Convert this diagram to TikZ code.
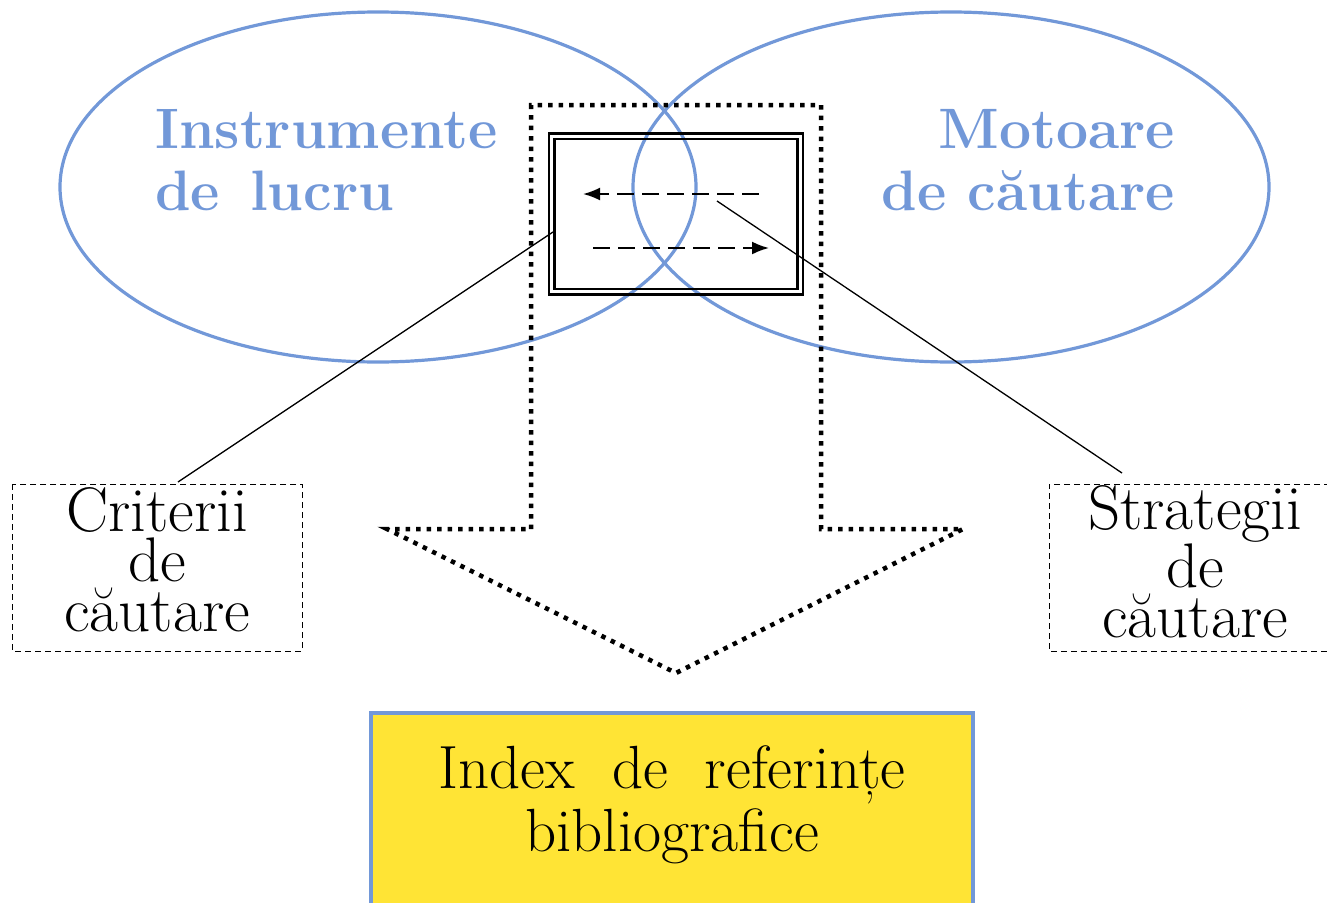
\documentclass[tikz,border=0pt]{standalone}
\usepackage{fontspec}
\usetikzlibrary{arrows.meta,shapes.geometric}
\definecolor{eblue}{RGB}{114,152,216}
\definecolor{iyellow}{RGB}{255,228,53}
\tikzset{
  ell/.style={draw=eblue,line width=3.2pt,ellipse,minimum width=636pt,minimum height=350pt,inner sep=0pt},
  elabel/.style={text=eblue,font=\fontsize{57}{62}\selectfont\bfseries,inner sep=0pt},
  dbox/.style={draw,dashed,line width=1pt,dash pattern=on 6pt off 4pt},
  blabel/.style={font=\fontsize{63}{50}\selectfont,align=center,inner sep=0pt},
  bigdot/.style={line width=4.5pt,dash pattern=on 4.5pt off 6pt},
  dasharrow/.style={line width=2pt,dash pattern=on 17pt off 8pt,-{Latex[length=17pt,width=13pt]}},
  leader/.style={line width=1.3pt}
}
\begin{document}
\begin{tikzpicture}[x=1pt,y=-1pt]
\useasboundingbox (0,0) rectangle (1327,902);
\clip (0,0) rectangle (1327,902);
% ellipses
\node[ell] (el) at (378,187) {};
\node[ell] (er) at (951,187) {};
\node[elabel,align=left,anchor=north west] (tl) at (155,109) {Instrumente\\de\hspace{30pt}lucru};
\node[elabel,align=right,anchor=north east] (tr) at (1175,109) {Motoare\\de căutare};
% dotted block arrow
\draw[bigdot] (531,529) -- (531,105) -- (821,105) -- (821,529) -- (963,529) -- (676,673) -- (387,529) -- cycle;
% double rectangle
\node[draw,line width=2.5pt,minimum width=254pt,minimum height=161pt,inner sep=0pt] (outer) at (676,214) {};
\node[draw,line width=2.5pt,minimum width=243pt,minimum height=150pt,inner sep=0pt] (inner) at (676,214) {};
\coordinate (a1s) at (759,194);
\coordinate (a1e) at (583,194);
\coordinate (a2s) at (593,248);
\coordinate (a2e) at (769,248);
\draw[dasharrow] (a1s) -- (a1e);
\draw[dasharrow] (a2s) -- (a2e);
% side boxes
\draw[dbox] (12,484) rectangle (302,651);
\node[blabel] (crit) at (157,560) {Criterii\\de\\căutare};
\draw[dbox] (1340,484) -- (1049,484) -- (1049,651) -- (1340,651);
\node[blabel] (strat) at (1195,562) {Strategii\\de\\căutare};
% leaders
\coordinate (lc1) at (178,482);
\coordinate (lc2) at (553,232);
\coordinate (ls1) at (717,201);
\coordinate (ls2) at (1122,473);
\draw[leader] (lc1) -- (lc2);
\draw[leader] (ls1) -- (ls2);
% index box
\draw[draw=eblue,fill=iyellow,line width=4.5pt] (371,713) rectangle (973,915);
\node[font=\fontsize{61}{63}\selectfont,align=center,inner sep=0pt] (idx) at (672,805) {Index\ \ de\ \ referințe\\bibliografice};
\end{tikzpicture}
\end{document}
